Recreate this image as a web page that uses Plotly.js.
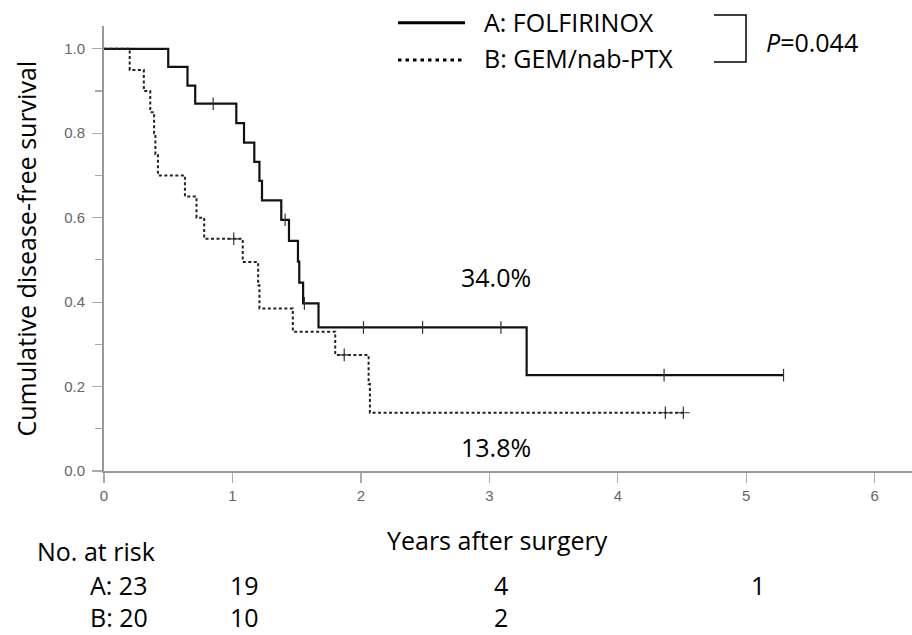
<!DOCTYPE html>
<html>
<head>
<meta charset="utf-8">
<script src="https://cdn.plot.ly/plotly-3.0.1.min.js"></script>
<style>html,body{margin:0;padding:0;background:#fff;}#chart{width:912px;height:635px;}</style>
</head>
<body>
<div id="chart"></div>
<script>
// ---- Data ----
// Group A: FOLFIRINOX (Kaplan-Meier steps)
const timesA    = [0, 0.50, 0.65, 0.71, 1.03, 1.09, 1.17, 1.21, 1.23, 1.38, 1.44, 1.51, 1.52, 1.55, 1.67, 3.29, 5.29];
const survA     = [1.0, 0.957, 0.913, 0.870, 0.824, 0.778, 0.732, 0.687, 0.641, 0.595, 0.545, 0.496, 0.446, 0.397, 0.340, 0.227, 0.227];
const censorTA  = [0.85, 1.41, 1.56, 2.02, 2.48, 3.09, 4.36, 5.29];
const censorSA  = [0.870, 0.595, 0.397, 0.340, 0.340, 0.340, 0.227, 0.227];
// Group B: GEM/nab-PTX
const timesB    = [0, 0.20, 0.31, 0.36, 0.39, 0.40, 0.42, 0.63, 0.72, 0.78, 1.08, 1.20, 1.21, 1.47, 1.80, 2.06, 2.07, 4.51];
const survB     = [1.0, 0.95, 0.90, 0.85, 0.80, 0.75, 0.70, 0.65, 0.60, 0.55, 0.495, 0.44, 0.385, 0.33, 0.275, 0.206, 0.138, 0.138];
const censorTB  = [1.01, 1.87, 4.37, 4.51];
const censorSB  = [0.55, 0.275, 0.138, 0.138];

const groupNames = ["A: FOLFIRINOX", "B: GEM/nab-PTX"];
const pText = "<i>P</i>=0.044";
const finalLabels = ["34.0%", "13.8%"];

// Numbers at risk
const riskTimes = [0, 1, 3, 5];
const riskA = [23, 19, 4, 1];
const riskB = [20, 10, 2];

const xTicks = [0, 1, 2, 3, 4, 5, 6];
const yTicks = [0.0, 0.2, 0.4, 0.6, 0.8, 1.0];

// ---- Layout helpers (pixel -> paper) ----
const ML = 104, MT = 26, MB = 164, W = 912, H = 635;
const PW = W - ML, PH = H - MT - MB;
const px = v => (v - ML) / PW;
const py = v => (H - MB - v) / PH;

const txtFont = {family: "Open Sans, Lato, sans-serif", size: 25, color: "#000"};
const tickFont = {family: "Liberation Sans, Arial, sans-serif", size: 15, color: "#666"};

const traces = [
  {x: timesA, y: survA, mode: "lines", line: {shape: "hv", color: "#111", width: 2.2}, cliponaxis: false, showlegend: false, hoverinfo: "skip"},
  {x: timesB, y: survB, mode: "lines", line: {shape: "hv", color: "#222", width: 2, dash: "3px,2.5px"}, cliponaxis: false, showlegend: false, hoverinfo: "skip"},
  {x: censorTA, y: censorSA, mode: "markers", marker: {symbol: "line-ns", size: 9, line: {width: 1.2, color: "#333"}}, cliponaxis: false, showlegend: false, hoverinfo: "skip"},
  {x: censorTB, y: censorSB, mode: "markers", marker: {symbol: "cross-thin", size: 9, line: {width: 1.2, color: "#333"}}, cliponaxis: false, showlegend: false, hoverinfo: "skip"}
];

const annotations = [];
function ann(text, x, y, xanchor, extra) {
  annotations.push(Object.assign({text: text, x: x, y: y, xref: "paper", yref: "paper",
    xanchor: xanchor || "center", yanchor: "middle", showarrow: false, font: txtFont}, extra || {}));
}
const rowA = 585, rowB = 617;
// Axis titles
ann("Cumulative disease-free survival", px(25), 0.5, "center", {textangle: -90});
ann("Years after surgery", px(497), py(540), "center");
// Legend texts
ann(groupNames[0], px(482), py(22), "left");
ann(groupNames[1], px(482), py(58), "left");
ann(pText, px(764), py(42), "left");
// Final survival labels (data coordinates)
annotations.push({text: finalLabels[0], x: 3.05, y: 0.46, xref: "x", yref: "y", xanchor: "center", yanchor: "middle", showarrow: false, font: txtFont});
annotations.push({text: finalLabels[1], x: 3.05, y: 0.058, xref: "x", yref: "y", xanchor: "center", yanchor: "middle", showarrow: false, font: txtFont});
// Numbers at risk
ann("No. at risk", px(35), py(551), "left");
ann("A: " + riskA[0], px(88), py(rowA), "left");
ann("B: " + riskB[0], px(88), py(rowB), "left");
for (let i = 1; i < riskTimes.length; i++) {
  if (i < riskA.length) annotations.push({text: String(riskA[i]), x: riskTimes[i], y: py(rowA), xref: "x", yref: "paper", xanchor: "center", yanchor: "middle", xshift: 12, showarrow: false, font: txtFont});
  if (i < riskB.length) annotations.push({text: String(riskB[i]), x: riskTimes[i], y: py(rowB), xref: "x", yref: "paper", xanchor: "center", yanchor: "middle", xshift: 12, showarrow: false, font: txtFont});
}

const shapes = [
  {type: "line", xref: "paper", yref: "paper", x0: px(398), x1: px(465), y0: py(22.7), y1: py(22.7), line: {color: "#000", width: 3}},
  {type: "line", xref: "paper", yref: "paper", x0: px(398), x1: px(465), y0: py(60), y1: py(60), line: {color: "#000", width: 3, dash: "3.5px,4px"}},
  {type: "path", xref: "paper", yref: "paper",
   path: `M ${px(714)} ${py(15)} L ${px(746)} ${py(15)} L ${px(746)} ${py(62)} L ${px(714)} ${py(62)}`,
   line: {color: "#000", width: 1.5}}
];

const layout = {
  width: W, height: H,
  margin: {l: ML, r: 0, t: MT, b: MB, pad: 0},
  paper_bgcolor: "#fff", plot_bgcolor: "#fff",
  showlegend: false,
  xaxis: {range: [0, 6.29], tickvals: xTicks, ticktext: xTicks.map(String), ticks: "outside", ticklen: 10, tickwidth: 1.2, tickcolor: "#aaa",
          showline: true, linecolor: "#999", linewidth: 2, showgrid: false, zeroline: false, tickfont: tickFont, fixedrange: true},
  yaxis: {range: [0, 1.054], tickvals: yTicks, ticktext: yTicks.map(v => v.toFixed(1)), ticks: "outside", ticklen: 10, tickwidth: 1.2, tickcolor: "#aaa",
          minor: {dtick: 0.1, tick0: 0, ticks: "outside", ticklen: 7, tickcolor: "#aaa", tickwidth: 1.2},
          showline: true, linecolor: "#999", linewidth: 2, showgrid: false, zeroline: false, tickfont: tickFont, ticklabelstandoff: 4, fixedrange: true},
  annotations: annotations,
  shapes: shapes
};

Plotly.newPlot("chart", traces, layout, {displayModeBar: false, staticPlot: true});
</script>
</body>
</html>
